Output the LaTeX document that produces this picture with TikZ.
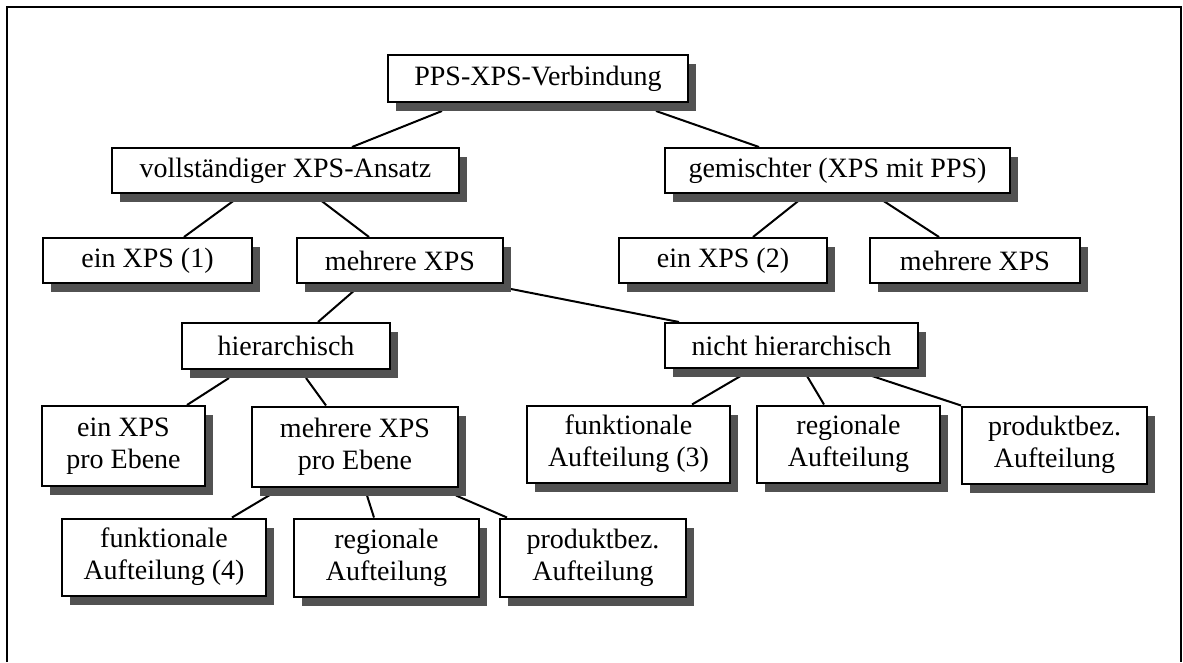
\documentclass[tikz,border=0pt]{standalone}
\usepackage{fontspec}
\setmainfont{Liberation Serif}
\usetikzlibrary{shadows,backgrounds,calc}
\tikzset{
  treebox/.style={draw=black, fill=white, line width=2pt, inner sep=0pt, align=center,
    font=\fontsize{28}{32}\selectfont,
    drop shadow={shadow xshift=8pt, shadow yshift=-9pt, fill=black!68, opacity=1}},
  conn/.style={line width=2pt, black},
  frameline/.style={line width=1.6pt, black}
}
\begin{document}
\begin{tikzpicture}[x=1pt,y=-1pt]
\useasboundingbox (0,0) rectangle (1183,662);
\draw[frameline] (7,662) -- (7,7) -- (1181,7) -- (1181,662);

\node[treebox, minimum width=300pt, minimum height=47pt] (top) at (538,78.5) {PPS-XPS-Verbindung};
\node[treebox, minimum width=347pt, minimum height=45pt] (voll) at (285.5,170.5) {vollständiger XPS-Ansatz};
\node[treebox, minimum width=345pt, minimum height=45pt] (gem) at (837.5,170.5) {gemischter (XPS mit PPS)};
\node[treebox, minimum width=209pt, minimum height=45pt] (ein1) at (147.5,260.5) {ein XPS (1)};
\node[treebox, minimum width=206pt, minimum height=45pt] (mehr1) at (400,260.5) {mehrere XPS};
\node[treebox, minimum width=208pt, minimum height=45pt] (ein2) at (723,260.5) {ein XPS (2)};
\node[treebox, minimum width=210pt, minimum height=45pt] (mehr2) at (975,260.5) {mehrere XPS};
\node[treebox, minimum width=208pt, minimum height=46pt] (hier) at (286,346) {hierarchisch};
\node[treebox, minimum width=253pt, minimum height=45pt] (nicht) at (791.5,345.5) {nicht hierarchisch};
\node[treebox, minimum width=163pt, minimum height=80pt] (einE) at (123.5,446) {ein XPS\\pro Ebene};
\node[treebox, minimum width=206pt, minimum height=80pt] (mehrE) at (355,446.5) {mehrere XPS\\pro Ebene};
\node[treebox, minimum width=203pt, minimum height=77pt] (funk3) at (628.5,444) {funktionale\\Aufteilung (3)};
\node[treebox, minimum width=183pt, minimum height=77pt] (reg3) at (848.5,444) {regionale\\Aufteilung};
\node[treebox, minimum width=185pt, minimum height=77pt] (prod3) at (1054.5,445) {produktbez.\\Aufteilung};
\node[treebox, minimum width=204pt, minimum height=77pt] (funk4) at (164,557) {funktionale\\Aufteilung (4)};
\node[treebox, minimum width=185pt, minimum height=78pt] (reg4) at (386.5,557.5) {regionale\\Aufteilung};
\node[treebox, minimum width=186pt, minimum height=78pt] (prod4) at (593,557.5) {produktbez.\\Aufteilung};

\begin{pgfonlayer}{background}
\draw[conn] ($(top.south west)+(55,8)$) -- ($(voll.north west)+(241,0)$);
\draw[conn] ($(top.south west)+(269,8)$) -- ($(gem.north west)+(95,0)$);
\draw[conn] ($(voll.south west)+(125,5)$) -- ($(ein1.north west)+(142,0)$);
\draw[conn] ($(voll.south west)+(208,5)$) -- ($(mehr1.north west)+(73,0)$);
\draw[conn] ($(gem.south west)+(138,4)$) -- ($(ein2.north west)+(135,0)$);
\draw[conn] ($(gem.south west)+(215,4)$) -- ($(mehr2.north west)+(70,0)$);
\draw[conn] ($(mehr1.south west)+(60,5)$) -- ($(hier.north west)+(137,0)$);
\draw[conn] ($(mehr1.south east)+(2,4)$) -- ($(nicht.north west)+(15,0)$);
\draw[conn] ($(hier.south west)+(48,8)$) -- ($(einE.north west)+(146,0)$);
\draw[conn] ($(hier.south west)+(125,8)$) -- ($(mehrE.north west)+(75,0)$);
\draw[conn] ($(nicht.south west)+(80,5)$) -- ($(funk3.north west)+(166,0)$);
\draw[conn] ($(nicht.south west)+(143,7)$) -- ($(reg3.north west)+(68,0)$);
\draw[conn] ($(nicht.south west)+(208,7)$) -- (prod3.north west);
\draw[conn] ($(mehrE.south west)+(23,5)$) -- ($(funk4.north west)+(171,0)$);
\draw[conn] ($(mehrE.south west)+(116,8)$) -- ($(reg4.north west)+(81,0)$);
\draw[conn] ($(mehrE.south west)+(205,8)$) -- ($(prod4.north west)+(8,0)$);
\end{pgfonlayer}
\end{tikzpicture}
\end{document}
